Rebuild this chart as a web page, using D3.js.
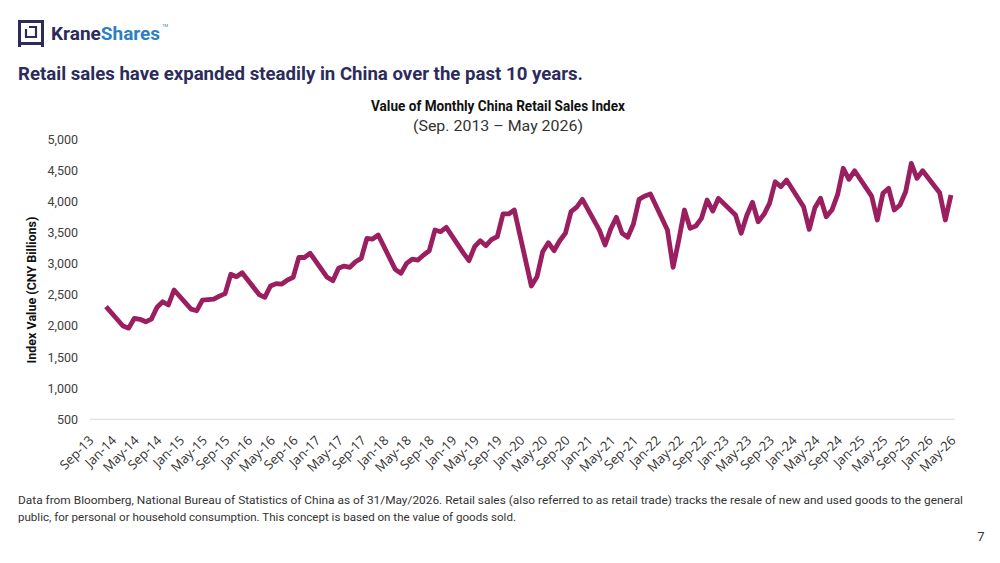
<!DOCTYPE html>
<html>
<head>
<meta charset="utf-8">
<script src="https://cdn.jsdelivr.net/npm/d3@7"></script>
<style>
  body { margin: 0; background: #fff; }
  svg { display: block; }
</style>
</head>
<body>
<svg id="chart" width="1000" height="563"></svg>
<script>
// monthly retail sales, CNY bn (Jan/Feb not reported -> null)
const sales2013 = [null, null, null, 2310];
const sales2014 = [null, null, 2000, 1965, 2123, 2107, 2068, 2110, 2300, 2390, 2337, 2578];
const sales2015 = [null, null, 2270, 2245, 2417, 2425, 2430, 2480, 2520, 2830, 2792, 2856];
const sales2016 = [null, null, 2505, 2460, 2642, 2680, 2674, 2739, 2782, 3103, 3100, 3168];
const sales2017 = [null, null, 2782, 2728, 2927, 2963, 2943, 3033, 3087, 3409, 3397, 3462];
const sales2018 = [null, null, 2910, 2846, 3007, 3075, 3060, 3140, 3209, 3542, 3515, 3585];
const sales2019 = [null, null, 3175, 3049, 3274, 3370, 3290, 3390, 3435, 3800, 3800, 3863];
const sales2020 = [null, null, 2642, 2792, 3193, 3338, 3209, 3370, 3489, 3836, 3910, 4035];
const sales2021 = [null, null, 3540, 3301, 3560, 3746, 3489, 3425, 3638, 4035, 4088, 4120];
const sales2022 = [null, null, 3542, 2943, 3380, 3863, 3569, 3606, 3730, 4024, 3847, 4051];
const sales2023 = [null, null, 3783, 3489, 3780, 3987, 3675, 3790, 3971, 4318, 4238, 4345];
const sales2024 = [null, null, 3916, 3553, 3900, 4051, 3756, 3863, 4110, 4534, 4357, 4495];
const sales2025 = [null, null, 4088, 3703, 4132, 4212, 3863, 3944, 4157, 4614, 4373, 4495];
const sales2026 = [null, null, 4141, 3703, 4104];

const xTickLabels = ["Sep-13", "Jan-14", "May-14", "Sep-14", "Jan-15", "May-15", "Sep-15",
  "Jan-16", "May-16", "Sep-16", "Jan-17", "May-17", "Sep-17", "Jan-18", "May-18", "Sep-18",
  "Jan-19", "May-19", "Sep-19", "Jan-20", "May-20", "Sep-20", "Jan-21", "May-21", "Sep-21",
  "Jan-22", "May-22", "Sep-22", "Jan-23", "May-23", "Sep-23", "Jan-24", "May-24", "Sep-24",
  "Jan-25", "May-25", "Sep-25", "Jan-26", "May-26"];
const yTicks = [500, 1000, 1500, 2000, 2500, 3000, 3500, 4000, 4500, 5000];

const navy = "#2b2c5c";
const plum = "#9a1e60";

const months = d3.timeMonth.range(new Date(2013, 8, 1), new Date(2026, 5, 1))
  .map(d3.timeFormat("%b-%y"));
const values = [].concat(sales2013, sales2014, sales2015, sales2016, sales2017, sales2018,
  sales2019, sales2020, sales2021, sales2022, sales2023, sales2024, sales2025, sales2026);
const data = months.map((m, i) => ({ m: m, v: values[i] }));

const svg = d3.select("#chart");

// logo
const logo = svg.append("g");
logo.append("rect")
  .attr("x", 19.5).attr("y", 21.5).attr("width", 23).attr("height", 22)
  .attr("fill", "none").attr("stroke", navy).attr("stroke-width", 3);
logo.append("path")
  .attr("d", "M19.5,43 V47 M42.5,43 V47")
  .attr("stroke", navy).attr("stroke-width", 3);
logo.append("path")
  .attr("d", "M26,29 V37 H36 V27 H29")
  .attr("fill", "none").attr("stroke", navy).attr("stroke-width", 2.2);
const brand = logo.append("text")
  .attr("x", 51).attr("y", 40)
  .attr("font-family", "Roboto, sans-serif")
  .attr("font-size", 19).attr("font-weight", 700);
brand.append("tspan").attr("fill", navy).text("Krane");
brand.append("tspan").attr("fill", "#2f80c3").text("Shares");
const brandEnd = 51 + brand.node().getComputedTextLength();
logo.append("text")
  .attr("x", brandEnd + 2).attr("y", 27)
  .attr("font-family", "Roboto, sans-serif").attr("font-size", 4)
  .attr("fill", "#2f80c3").text("TM");

// headline
svg.append("text")
  .attr("x", 18).attr("y", 80)
  .attr("font-family", "Roboto, sans-serif")
  .attr("font-size", 19).attr("font-weight", 700)
  .attr("fill", navy)
  .attr("textLength", 565).attr("lengthAdjust", "spacingAndGlyphs")
  .text("Retail sales have expanded steadily in China over the past 10 years.");

// chart title
svg.append("text")
  .attr("x", 498).attr("y", 111)
  .attr("text-anchor", "middle")
  .attr("font-family", "Roboto, sans-serif")
  .attr("font-size", 14).attr("font-weight", 700)
  .attr("fill", "#111")
  .attr("textLength", 254).attr("lengthAdjust", "spacingAndGlyphs")
  .text("Value of Monthly China Retail Sales Index");
svg.append("text")
  .attr("x", 498).attr("y", 131)
  .attr("text-anchor", "middle")
  .attr("font-family", "Roboto, sans-serif")
  .attr("font-size", 14.5)
  .attr("fill", "#333")
  .attr("textLength", 170).attr("lengthAdjust", "spacingAndGlyphs")
  .text("(Sep. 2013 \u2013 May 2026)");

// scales
const x = d3.scalePoint().domain(months).range([89, 951]);
const y = d3.scaleLinear().domain([500, 5000]).range([419.3, 139.3]);

// baseline
svg.append("line")
  .attr("x1", 90).attr("x2", 955)
  .attr("y1", y(500)).attr("y2", y(500))
  .attr("stroke", "#d9d9d9").attr("stroke-width", 1);

// y axis
const yAxis = svg.append("g")
  .attr("transform", "translate(90,0)")
  .call(d3.axisLeft(y).tickValues(yTicks).tickFormat(d3.format(",")).tickSize(0).tickPadding(12));
yAxis.select(".domain").remove();
yAxis.selectAll("text")
  .attr("font-family", "Roboto, sans-serif")
  .attr("font-size", 12.5)
  .attr("fill", "#404040");

svg.append("text")
  .attr("transform", "translate(36,290) rotate(-90)")
  .attr("text-anchor", "middle")
  .attr("font-family", "Roboto, sans-serif")
  .attr("font-size", 12.5).attr("font-weight", 700)
  .attr("fill", "#111")
  .text("Index Value (CNY Billions)");

// x axis
const xAxis = svg.append("g")
  .attr("transform", "translate(0," + y(500) + ")")
  .call(d3.axisBottom(x).tickValues(xTickLabels).tickSize(0));
xAxis.select(".domain").remove();
xAxis.selectAll("text")
  .attr("y", 0).attr("dy", 0)
  .attr("text-anchor", "end")
  .attr("transform", "translate(5,22) rotate(-45)")
  .attr("font-family", "'Open Sans', sans-serif")
  .attr("font-size", 13)
  .attr("fill", "#333");

// line (gaps for Jan/Feb are bridged)
const line = d3.line()
  .x(d => x(d.m))
  .y(d => y(d.v));
svg.append("path")
  .datum(data.filter(d => d.v != null))
  .attr("d", line)
  .attr("fill", "none")
  .attr("stroke", plum)
  .attr("stroke-width", 4.8)
  .attr("stroke-linejoin", "round");

// footnote
const note = svg.append("g")
  .attr("font-family", "Roboto, sans-serif")
  .attr("font-size", 11.8)
  .attr("fill", "#333");
note.append("text")
  .attr("x", 18).attr("y", 504)
  .attr("textLength", 945).attr("lengthAdjust", "spacingAndGlyphs")
  .text("Data from Bloomberg, National Bureau of Statistics of China as of 31/May/2026. Retail sales (also referred to as retail trade) tracks the resale of new and used goods to the general");
note.append("text")
  .attr("x", 18).attr("y", 521)
  .attr("textLength", 498).attr("lengthAdjust", "spacingAndGlyphs")
  .text("public, for personal or household consumption. This concept is based on the value of goods sold.");
svg.append("text")
  .attr("x", 981).attr("y", 541)
  .attr("text-anchor", "middle")
  .attr("font-family", "Roboto, sans-serif")
  .attr("font-size", 13).attr("fill", "#333")
  .text("7");
</script>
</body>
</html>
